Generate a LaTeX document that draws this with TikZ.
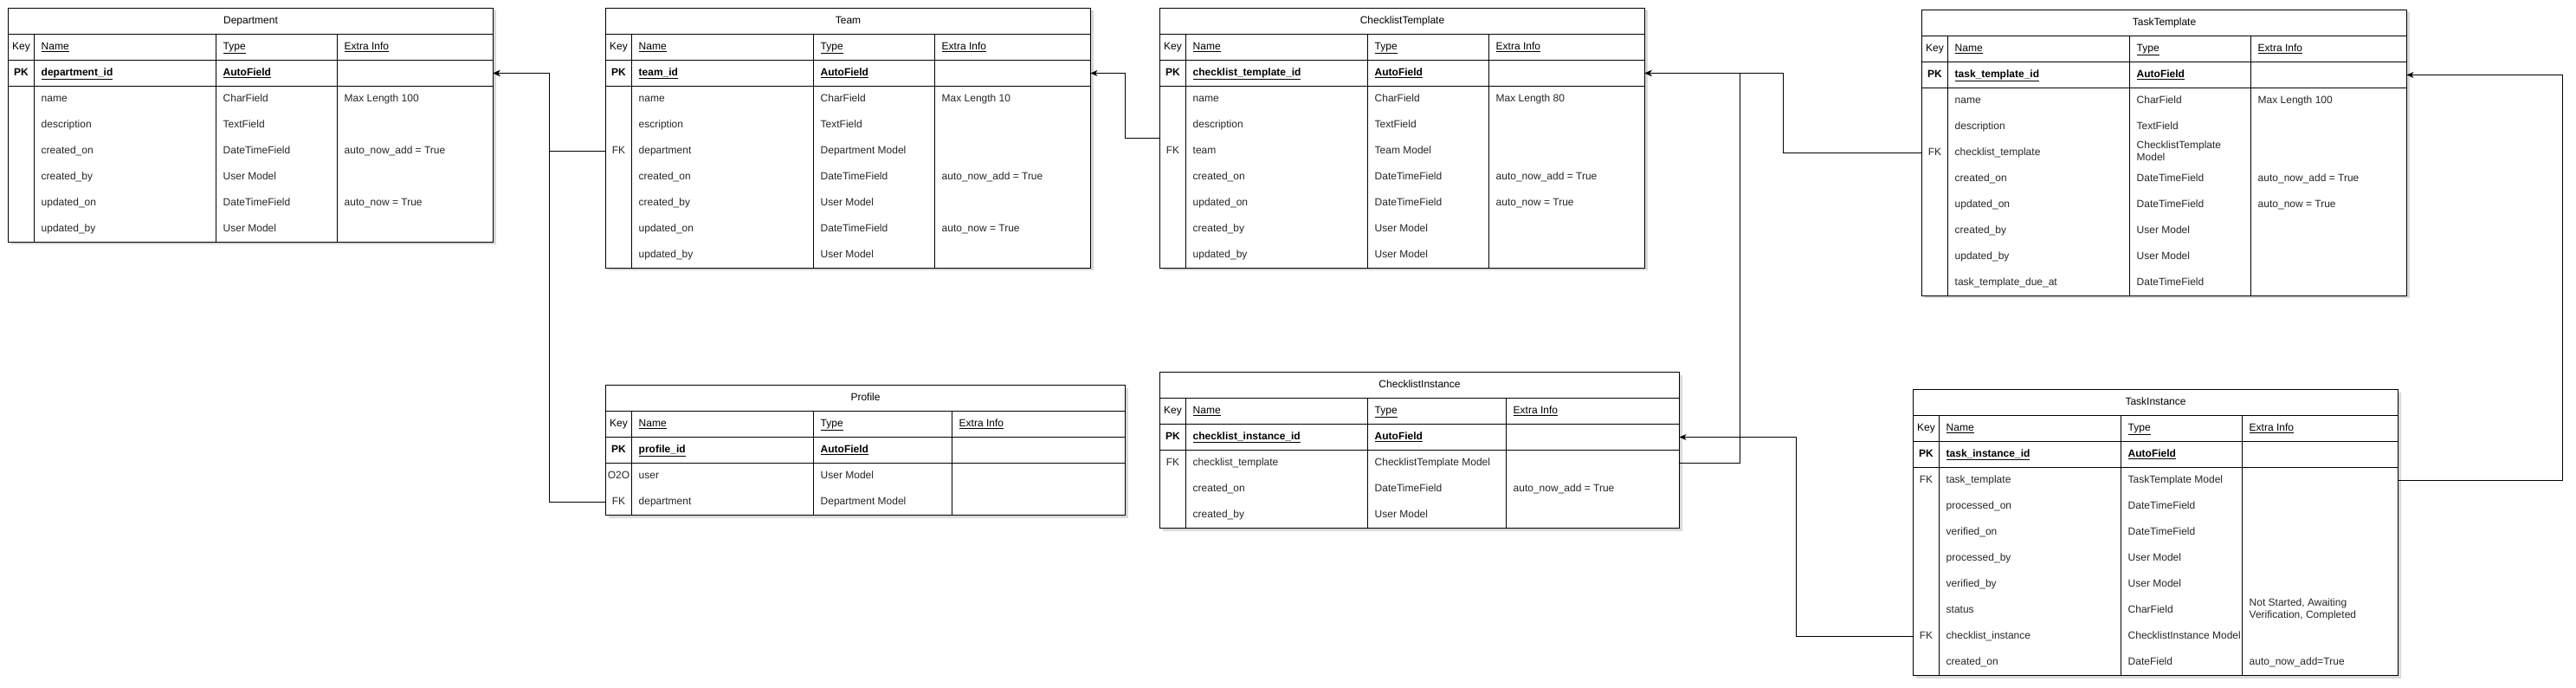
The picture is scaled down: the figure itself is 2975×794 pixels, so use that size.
\documentclass[tikz,border=0pt]{standalone}
\usepackage{fontspec}
\setmainfont{Liberation Sans}
\usetikzlibrary{arrows.meta}

% one model: id, title, type width, extra width, body rows, pk name, rows
\newcommand{\ertable}[7]{%
	\pgfmathsetmacro\erX{240+#3}%
	\pgfmathsetmacro\erW{240+#3+#4}%
	\pgfmathsetmacro\erH{90+30*#5}%
	\fill[black,opacity=.15] (3,3) rectangle (\erW+3,\erH+3);
	\fill[white] (0,0) rectangle (\erW,\erH);
	\node[titlecell] (#1) at (\erW/2,15) {#2};
	\draw[tabline] (0,30) -- (\erW,30) (0,60) -- (\erW,60) (0,90) -- (\erW,90)
		(30,30) -- (30,\erH) (240,30) -- (240,\erH) (\erX,30) -- (\erX,\erH);
	\draw[tabline] (0,0) rectangle (\erW,\erH);
	\node[headcell] at (15,45) {Key};
	\node[headcell,anchor=west] at (38,45) {\underline{Name}};
	\node[headcell,anchor=west] at (248,45) {\underline{Type}};
	\node[headcell,anchor=west] at (\erX+8,45) {\underline{Extra Info}};
	\node[rowbox,minimum width=\erW pt] (#1-pk) at (0,75) {};
	\node[pkcell] at (15,75) {PK};
	\node[pkcell,anchor=west] at (38,75) {\underline{#6}};
	\node[pkcell,anchor=west] at (248,75) {\underline{AutoField}};
	\foreach \cKey/\cName/\cType/\cExtra [count=\i] in {#7} {
		\node[rowbox,minimum width=\erW pt] (#1-\i) at (0,75+30*\i) {};
		\node[bodycell] at (15,75+30*\i) {\cKey};
		\node[bodycell,anchor=west] at (38,75+30*\i) {\cName};
		\node[bodycell,anchor=west] at (248,75+30*\i) {\cType};
		\node[bodycell,anchor=west] at (\erX+8,75+30*\i) {\cExtra};
	}%
}

\begin{document}
\begin{tikzpicture}[x=1pt,y=-1pt]
				\tikzset{cell/.style={inner sep=0pt,font=\fontsize{12}{14}\selectfont,align=left,execute at begin node=\strut}}
				\tikzset{titlecell/.style={cell,align=center}}
				\tikzset{headcell/.style={cell}}
				\tikzset{pkcell/.style={cell,font=\fontsize{12}{14}\selectfont\bfseries}}
				\tikzset{bodycell/.style={cell,text=black!85}}
				\tikzset{rowbox/.style={anchor=west,minimum height=30pt,inner sep=0pt,outer sep=0pt}}
				\tikzset{tabline/.style={line width=1pt}}
				\tikzset{fk/.style={line width=1pt,-{Stealth[length=8pt,width=7pt,inset=2.5pt]}}}
				\fill[white] (0,0) rectangle (2975,794);
				\useasboundingbox (0,0) rectangle (2975,794);
				% models
				\begin{scope}[shift={(9.5,9.5)}]
					\ertable{dept}{Department}{140}{180}{6}{department\_id}{/name/CharField/Max Length 100, /description/TextField/, /created\_on/DateTimeField/auto\_now\_add = True, /created\_by/User Model/, /updated\_on/DateTimeField/auto\_now = True, /updated\_by/User Model/}
				\end{scope}
				\begin{scope}[shift={(699.5,9.5)}]
					\ertable{team}{Team}{140}{180}{7}{team\_id}{/name/CharField/Max Length 10, /escription/TextField/, FK/department/Department Model/, /created\_on/DateTimeField/auto\_now\_add = True, /created\_by/User Model/, /updated\_on/DateTimeField/auto\_now = True, /updated\_by/User Model/}
				\end{scope}
				\begin{scope}[shift={(1339.5,9.5)}]
					\ertable{cltmpl}{ChecklistTemplate}{140}{180}{7}{checklist\_template\_id}{/name/CharField/Max Length 80, /description/TextField/, FK/team/Team Model/, /created\_on/DateTimeField/auto\_now\_add = True, /updated\_on/DateTimeField/auto\_now = True, /created\_by/User Model/, /updated\_by/User Model/}
				\end{scope}
				\begin{scope}[shift={(2219.5,11.5)}]
					\ertable{tasktmpl}{TaskTemplate}{140}{180}{8}{task\_template\_id}{/name/CharField/Max Length 100, /description/TextField/, FK/checklist\_template/{ChecklistTemplate\\Model\strut}/, /created\_on/DateTimeField/auto\_now\_add = True, /updated\_on/DateTimeField/auto\_now = True, /created\_by/User Model/, /updated\_by/User Model/, /task\_template\_due\_at/DateTimeField/}
				\end{scope}
				\begin{scope}[shift={(699.5,444.5)}]
					\ertable{profile}{Profile}{160}{200}{2}{profile\_id}{O2O/user/User Model/, FK/department/Department Model/}
				\end{scope}
				\begin{scope}[shift={(1339.5,429.5)}]
					\ertable{clinst}{ChecklistInstance}{160}{200}{3}{checklist\_instance\_id}{FK/checklist\_template/ChecklistTemplate Model/, /created\_on/DateTimeField/auto\_now\_add = True, /created\_by/User Model/}
				\end{scope}
				\begin{scope}[shift={(2209.5,449.5)}]
					\ertable{taskinst}{TaskInstance}{140}{180}{8}{task\_instance\_id}{FK/task\_template/TaskTemplate Model/, /processed\_on/DateTimeField/, /verified\_on/DateTimeField/, /processed\_by/User Model/, /verified\_by/User Model/, /status/CharField/{Not Started, Awaiting\\Verification, Completed\strut}, FK/checklist\_instance/ChecklistInstance Model/, /created\_on/DateField/auto\_now\_add=True}
				\end{scope}
				% foreign keys
				\draw[fk] (team-3.west) -- ++(-65.5,0) |- (dept-pk.east);
				\draw[fk] (profile-2.west) -- ++(-65.5,0) |- (dept-pk.east);
				\draw[fk] (cltmpl-3.north west) -- ++(-40,0) |- (team-pk.east);
				\draw[fk] (tasktmpl-3.west) -- ++(-160,0) |- (cltmpl-pk.east);
				\draw[fk] (clinst-1.east) -- ++(70,0) |- (cltmpl-pk.east);
				\draw[fk] (taskinst-7.west) -- ++(-135,0) |- (clinst-pk.east);
				\draw[fk] (taskinst-1.east) -- ++(189.5,0) |- (tasktmpl-pk.east);
\end{tikzpicture}
\end{document}
